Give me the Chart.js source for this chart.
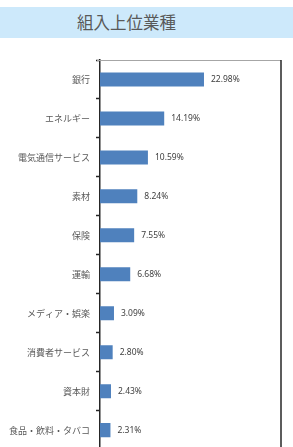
<!DOCTYPE html>
<html>
<head>
<meta charset="utf-8">
<script src="https://cdn.jsdelivr.net/npm/chart.js@4/dist/chart.umd.min.js"></script>
<style>
  html, body { margin: 0; padding: 0; background: #fff; overflow: hidden; }
  body { width: 293px; height: 447px; position: relative; }
  .banner {
    position: absolute; left: 0; top: 7px; width: 293px; height: 31px;
    background: #cde9fb; color: #595959;
    font: 16.5px "Noto Sans CJK JP", sans-serif;
    line-height: 31px; text-align: left; padding-left: 77px; box-sizing: border-box;
  }
  .wrap { position: absolute; left: 0; top: 0; width: 293px; height: 461px; }
</style>
</head>
<body>
<div class="wrap"><canvas id="chart"></canvas></div>
<div class="banner">組入上位業種</div>
<script>
// Top sectors (weights in %)
const sectors = ['銀行', 'エネルギー', '電気通信サービス', '素材', '保険', '運輸', 'メディア・娯楽', '消費者サービス', '資本財', '食品・飲料・タバコ'];
const weights = [22.98, 14.19, 10.59, 8.24, 7.55, 6.68, 3.09, 2.80, 2.43, 2.31];
const xMax = 40;

// frame: gray top line, dark right border
const framePlugin = {
  id: 'frame',
  afterDraw(chart) {
    const { ctx, chartArea: a } = chart;
    ctx.save();
    ctx.strokeStyle = '#a6a6a6';
    ctx.lineWidth = 1;
    ctx.beginPath();
    ctx.moveTo(a.left - 3, a.top + 0.5);
    ctx.lineTo(a.right, a.top + 0.5);
    ctx.stroke();
    ctx.strokeStyle = '#262626';
    ctx.lineWidth = 1.5;
    ctx.beginPath();
    ctx.moveTo(a.right, a.top);
    ctx.lineTo(a.right, a.bottom);
    ctx.stroke();
    ctx.restore();
  }
};

// value labels right of each bar
const valueLabels = {
  id: 'valueLabels',
  afterDatasetsDraw(chart) {
    const { ctx } = chart;
    ctx.save();
    ctx.font = '8.5px "Noto Sans", sans-serif';
    ctx.fillStyle = '#404040';
    ctx.textBaseline = 'middle';
    chart.getDatasetMeta(0).data.forEach((bar, i) => {
      ctx.fillText(weights[i].toFixed(2) + '%', bar.x + 7, bar.y + 0.5);
    });
    ctx.restore();
  }
};

new Chart(document.getElementById('chart'), {
  type: 'bar',
  data: {
    labels: sectors,
    datasets: [{
      data: weights,
      backgroundColor: '#4f81bd',
      borderWidth: 0,
      barPercentage: 0.36,
      categoryPercentage: 1
    }]
  },
  options: {
    indexAxis: 'y',
    responsive: true,
    maintainAspectRatio: false,
    animation: false,
    layout: { padding: { top: 60, right: 12, bottom: 4, left: 0 } },
    plugins: { legend: { display: false }, tooltip: { enabled: false } },
    scales: {
      x: { display: false, min: 0, max: xMax },
      y: {
        afterFit(scale) { scale.width = 100; },
        grid: { offset: true, drawOnChartArea: false, tickLength: 4, color: '#262626', tickWidth: 1.5 },
        border: { color: '#262626', width: 1.5 },
        ticks: { padding: 6, color: '#595959', font: { family: '"Noto Sans CJK JP", sans-serif', size: 9 } }
      }
    }
  },
  plugins: [framePlugin, valueLabels]
});
</script>
</body>
</html>
